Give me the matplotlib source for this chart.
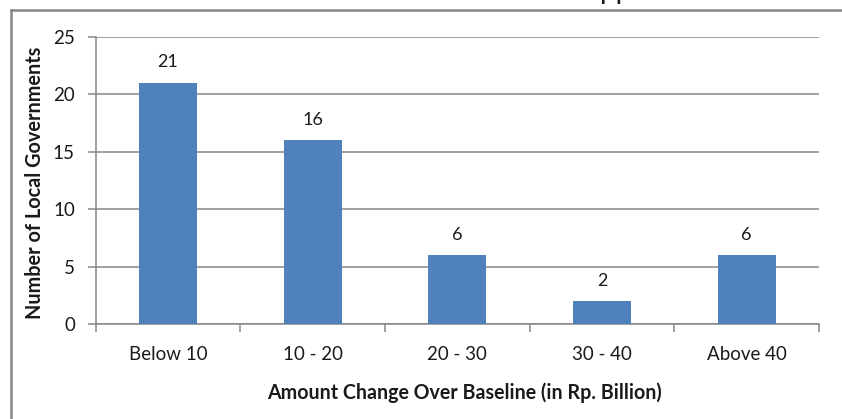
import numpy as np
import matplotlib.pyplot as plt
from matplotlib.lines import Line2D

categories = ['Below 10', '10 - 20', '20 - 30', '30 - 40', 'Above 40']
counts = [21, 16, 6, 2, 6]
y_ticks = [0, 5, 10, 15, 20, 25]

bar_color = '#4F81BD'
line_gray = '#868686'
text_color = '#1a1a1a'

plt.rcParams['font.family'] = ['Lato', 'DejaVu Sans']

W, H = 842, 419
fig = plt.figure(figsize=(W / 100, H / 100), dpi=100)
ax = fig.add_axes([0.1137, 0.2267, 0.8590, 0.6857])

x = np.arange(len(categories))
bars = ax.bar(x, counts, width=0.4, color=bar_color, zorder=3)

# value labels above each bar
for rect, val in zip(bars, counts):
    ax.annotate(str(val),
                xy=(rect.get_x() + rect.get_width() / 2, val),
                xytext=(0, 9), textcoords='offset points',
                ha='center', va='bottom', fontsize=13, color=text_color)

ax.set_xlim(-0.5, len(categories) - 0.5)
ax.set_ylim(0, 25)
ax.set_yticks(y_ticks)
ax.yaxis.grid(True, color=line_gray, linewidth=1.1, zorder=0)
ax.set_axisbelow(True)

# boundary ticks between categories, labels at centres
ax.set_xticks(np.arange(-0.5, len(categories), 1.0))
ax.set_xticklabels([])
ax.set_xticks(x, minor=True)
ax.set_xticklabels(categories, minor=True)
ax.tick_params(axis='x', which='major', length=6, width=1.1, color=line_gray,
               direction='out')
ax.tick_params(axis='x', which='minor', length=0, pad=16, labelsize=13.5,
               labelcolor=text_color)
ax.tick_params(axis='y', length=6, width=1.1, color=line_gray, pad=9,
               labelsize=13.5, labelcolor=text_color)

for side in ['top', 'right']:
    ax.spines[side].set_visible(False)
for side in ['left', 'bottom']:
    ax.spines[side].set_color(line_gray)
    ax.spines[side].set_linewidth(1.1)

# axis titles
fig.text(35 / W, 1 - 183 / H, 'Number of Local Governments', rotation=90,
         ha='center', va='center', fontsize=14.3, fontweight='bold',
         color=text_color)
fig.text(464 / W, 1 - 393 / H, 'Amount Change Over Baseline (in Rp. Billion)',
         ha='center', va='center', fontsize=14.1, fontweight='bold',
         color=text_color)

# outer chart border (left and top edges)
fig.add_artist(Line2D([10.5 / W, 10.5 / W], [0, 1 - 10.5 / H],
                      color=line_gray, linewidth=1.8))
fig.add_artist(Line2D([10.5 / W, 1], [1 - 10.5 / H, 1 - 10.5 / H],
                      color=line_gray, linewidth=1.8))
fig.text(600 / W, 1 + 1.5 / H, 'pp', fontsize=20, ha='left', va='baseline',
         color=text_color)

fig.savefig('out.png', dpi=100)
